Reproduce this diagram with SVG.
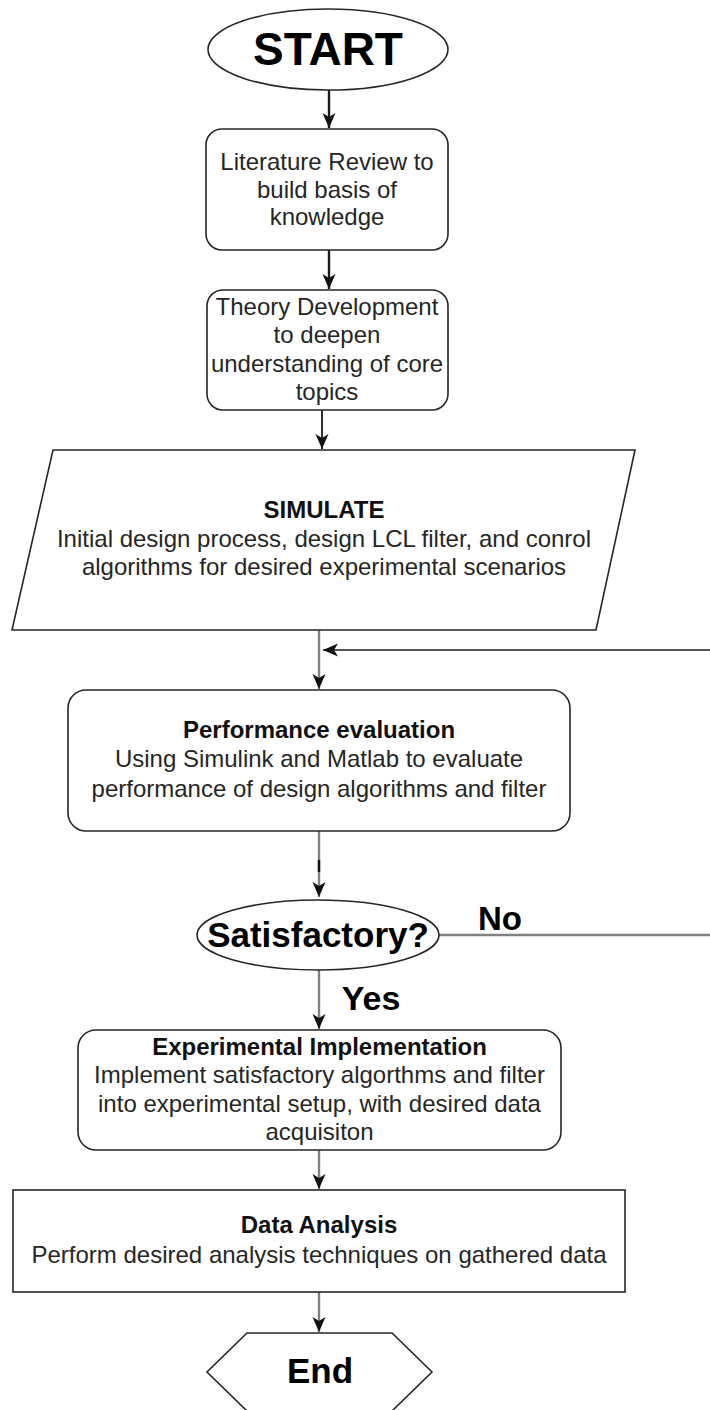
<svg xmlns="http://www.w3.org/2000/svg" width="710" height="1410" viewBox="0 0 710 1410">
<defs>
<style>
.bg{fill:#ffffff}
.shape{fill:#ffffff;stroke:#262626;stroke-width:1.6}
.t{font-family:"Liberation Sans",Arial,Helvetica,sans-serif;font-size:24px;fill:#262626;text-anchor:middle}
.b{font-weight:bold;fill:#111111}
.big{font-family:"Liberation Sans",Arial,Helvetica,sans-serif;font-weight:bold;fill:#000000;text-anchor:middle}
.lbk{fill:none;stroke:#1a1a1a;stroke-width:2.4}
.lgr{fill:none;stroke:#808080;stroke-width:2.4}
.lfb{fill:none;stroke:#1a1a1a;stroke-width:1.6}
</style>
<marker id="ah" markerUnits="userSpaceOnUse" markerWidth="16" markerHeight="16" viewBox="0 0 16 16" refX="15" refY="8" orient="auto">
<path d="M0,1.5 L15,8 L0,14.5 L4,8 Z" fill="#111111"/>
</marker>
</defs>
<rect class="bg" x="0" y="0" width="710" height="1410"/>

<g id="connectors">
<line class="lbk" x1="329" y1="90" x2="329" y2="128" marker-end="url(#ah)"/>
<line class="lbk" x1="329" y1="250" x2="329" y2="289" marker-end="url(#ah)"/>
<line class="lbk" x1="322" y1="410" x2="322" y2="449" marker-end="url(#ah)" style="stroke-width:1.8"/>
<line class="lgr" x1="319" y1="630" x2="319" y2="689" marker-end="url(#ah)"/>
<line class="lfb" x1="710" y1="650" x2="323" y2="650" marker-end="url(#ah)"/>
<line class="lgr" x1="319" y1="831" x2="319" y2="897" marker-end="url(#ah)"/>
<line x1="319" y1="860" x2="319" y2="872" stroke="#111111" stroke-width="2.4"/>
<line class="lgr" x1="439" y1="935" x2="710" y2="935"/>
<line class="lgr" x1="319" y1="970" x2="319" y2="1029" marker-end="url(#ah)"/>
<line class="lgr" x1="319" y1="1150" x2="319" y2="1189" marker-end="url(#ah)"/>
<line class="lgr" x1="319" y1="1292" x2="319" y2="1332" marker-end="url(#ah)"/>
<text class="big" x="500" y="930" font-size="33">No</text>
<text class="big" x="371" y="1010" font-size="34">Yes</text>
</g>

<g id="start">
<ellipse class="shape" cx="328" cy="49.5" rx="120" ry="40.5"/>
<text class="big" x="328" y="65" font-size="46">START</text>
</g>

<g id="literature">
<rect class="shape" x="206" y="129" width="242" height="121" rx="16"/>
<text class="t" x="327" y="170">Literature Review to</text>
<text class="t" x="327" y="198">build basis of</text>
<text class="t" x="327" y="225">knowledge</text>
</g>

<g id="theory">
<rect class="shape" x="207" y="290" width="241" height="120" rx="16"/>
<text class="t" x="327" y="315">Theory Development</text>
<text class="t" x="327" y="343">to deepen</text>
<text class="t" x="327" y="372">understanding of core</text>
<text class="t" x="327" y="400">topics</text>
</g>

<g id="simulate">
<polygon class="shape" points="53,450 635,450 596,630 12,630"/>
<text class="t b" x="324" y="518">SIMULATE</text>
<text class="t" x="324" y="547">Initial design process, design LCL filter, and conrol</text>
<text class="t" x="324" y="575">algorithms for desired experimental scenarios</text>
</g>

<g id="performance">
<rect class="shape" x="68" y="690" width="502" height="141" rx="18"/>
<text class="t b" x="319" y="738">Performance evaluation</text>
<text class="t" x="319" y="767">Using Simulink and Matlab to evaluate</text>
<text class="t" x="319" y="797">performance of design algorithms and filter</text>
</g>

<g id="satisfactory">
<ellipse class="shape" cx="318" cy="935" rx="121" ry="35"/>
<text class="big" x="318" y="947" font-size="35">Satisfactory?</text>
</g>

<g id="experimental">
<rect class="shape" x="78" y="1030" width="483" height="120" rx="18"/>
<text class="t b" x="319.5" y="1055">Experimental Implementation</text>
<text class="t" x="319.5" y="1083">Implement satisfactory algorthms and filter</text>
<text class="t" x="319.5" y="1112">into experimental setup, with desired data</text>
<text class="t" x="319.5" y="1140">acquisiton</text>
</g>

<g id="data">
<rect class="shape" x="13" y="1190" width="612" height="102"/>
<text class="t b" x="319" y="1233">Data Analysis</text>
<text class="t" x="319" y="1263">Perform desired analysis techniques on gathered data</text>
</g>

<g id="end">
<polygon class="shape" points="247,1333 392,1333 432,1372 392,1411 247,1411 207,1372"/>
<text class="big" x="320" y="1383" font-size="35">End</text>
</g>
</svg>
